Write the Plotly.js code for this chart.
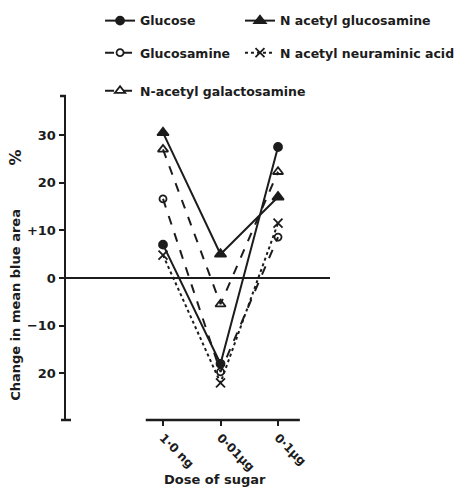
<!DOCTYPE html>
<html>
<head>
<meta charset="utf-8">
<script src="https://cdn.plot.ly/plotly-3.0.1.min.js"></script>
<style>html,body{margin:0;padding:0;background:#fff;}#chart{width:473px;height:490px;}</style>
</head>
<body>
<div id="chart"></div>
<script>
// Data
const doses = ["1·0 ng", "0·01µg", "0·1µg"];
const dosePos = [0, 1, 2];
const glucose = [7, -18, 27.5];
const nAcetylGlucosamine = [30.5, 5, 17];
const glucosamine = [16.6, -19.7, 8.6];
const nAcetylNeuraminicAcid = [4.8, -22, 11.5];
const nAcetylGalactosamine = [27, -5.5, 22.3];
const yTickVals = [-20, -10, 0, 10, 20, 30];
const yTickText = ["20", "−10", "0", "+10", "20", "30"];

const ink = "#1c1c1c";
const FONT = "DejaVu Sans, Liberation Sans, Arial, sans-serif";

function tr(name, y, dash, symbol, size, legend) {
  return {
    x: dosePos, y: y, name: name, type: "scatter", mode: "lines+markers",
    line: {color: ink, width: 2, dash: dash},
    marker: {symbol: symbol, size: size, color: ink, line: {color: ink, width: 1.8}},
    legend: legend
  };
}

const traces = [
  tr("Glucose", glucose, "solid", "circle", 8, "legend"),
  tr("N acetyl glucosamine", nAcetylGlucosamine, "solid", "triangle-up", 10, "legend2"),
  tr("Glucosamine", glucosamine, "dash", "circle-open", 7, "legend3"),
  tr("N acetyl neuraminic acid", nAcetylNeuraminicAcid, "dot", "x-thin-open", 9, "legend4"),
  tr("N-acetyl galactosamine", nAcetylGalactosamine, "dash", "triangle-up-open", 9, "legend5")
];

function leg(x, y) {
  return {
    orientation: "h", x: x, y: y, xanchor: "left", yanchor: "middle",
    font: {family: FONT, size: 12.5, color: ink, weight: "bold"},
    bgcolor: "rgba(0,0,0,0)", itemwidth: 30
  };
}

const layout = {
  width: 473, height: 490,
  margin: {l: 66, r: 143, t: 96, b: 70, autoexpand: false},
  paper_bgcolor: "#fff", plot_bgcolor: "#fff",
  font: {family: FONT, color: ink, weight: "bold"},
  showlegend: true,
  legend: leg(0.129, 1.2315),
  legend2: leg(0.659, 1.2315),
  legend3: leg(0.129, 1.1327),
  legend4: leg(0.659, 1.1327),
  legend5: leg(0.129, 1.0154),
  xaxis: {
    range: [-1.687, 2.904], showgrid: false, zeroline: false, showline: false,
    tickmode: "array", tickvals: dosePos, ticktext: doses,
    ticks: "outside", ticklen: 5, tickwidth: 2, tickcolor: ink,
    tickangle: 45, tickfont: {family: FONT, size: 12, color: ink, weight: "bold"}
  },
  yaxis: {
    range: [-29.8, 38.2], showgrid: false,
    zeroline: true, zerolinewidth: 2.5, zerolinecolor: ink,
    showline: true, linewidth: 2.5, linecolor: ink,
    tickmode: "array", tickvals: yTickVals, ticktext: yTickText,
    ticks: "outside", ticklen: 5, tickwidth: 2, tickcolor: ink,
    tickfont: {family: FONT, size: 13, color: ink, weight: "bold"}
  },
  shapes: [
    {type: "line", xref: "x", yref: "paper", x0: -0.3, x1: 2.38, y0: 0, y1: 0,
     line: {color: ink, width: 2.5}},
    {type: "line", xref: "paper", yref: "paper", xsizemode: "pixel", xanchor: 0,
     x0: -5, x1: 5, y0: 0, y1: 0, line: {color: ink, width: 2.5}},
    {type: "line", xref: "paper", yref: "paper", xsizemode: "pixel", xanchor: 0,
     x0: -6, x1: 0, y0: 1, y1: 1, line: {color: ink, width: 2.5}}
  ],
  annotations: [
    {text: "Change in mean blue area", xref: "paper", yref: "paper",
     x: -0.19, y: 0.355, textangle: -90, showarrow: false, xanchor: "center", yanchor: "middle",
     font: {family: FONT, size: 13, color: ink, weight: "bold"}},
    {text: "%", xref: "paper", yref: "paper",
     x: -0.19, y: 0.81, textangle: -90, showarrow: false, xanchor: "center", yanchor: "middle",
     font: {family: FONT, size: 16, color: ink, weight: "bold"}},
    {text: "Dose of sugar", xref: "x", yref: "paper",
     x: 0.9, y: -0.185, showarrow: false, xanchor: "center", yanchor: "middle",
     font: {family: FONT, size: 13, color: ink, weight: "bold"}}
  ]
};

Plotly.newPlot("chart", traces, layout, {displayModeBar: false, staticPlot: true});
</script>
</body>
</html>
